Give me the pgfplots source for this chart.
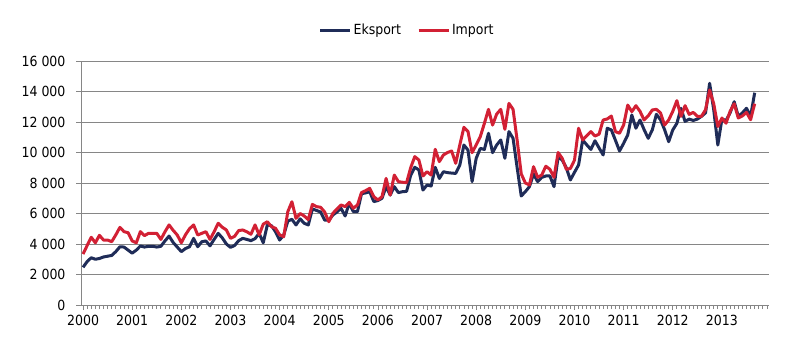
\documentclass[border=0pt]{standalone}
\usepackage{fontspec}
\setmainfont{DejaVu Sans Condensed}
\usepackage{pgfplots}
\usepackage{pgfplotstable}
\pgfplotsset{compat=1.18}
\definecolor{navy}{RGB}{31,44,88}
\definecolor{crim}{RGB}{210,32,52}
\definecolor{gridgray}{RGB}{134,134,134}

\pgfplotstableread{
i E I
0 2470 3340
1 2850 3900
2 3100 4440
3 3000 4080
4 3050 4570
5 3150 4260
6 3200 4260
7 3250 4150
8 3500 4600
9 3820 5090
10 3800 4810
11 3600 4740
12 3400 4200
13 3600 4080
14 3870 4810
15 3800 4550
16 3850 4700
17 3850 4700
18 3800 4700
19 3850 4300
20 4200 4800
21 4520 5250
22 4100 4900
23 3800 4590
24 3500 4080
25 3700 4600
26 3820 5000
27 4370 5250
28 3820 4590
29 4150 4700
30 4200 4810
31 3880 4300
32 4300 4800
33 4700 5360
34 4400 5100
35 4000 4920
36 3780 4370
37 3900 4500
38 4220 4880
39 4370 4920
40 4300 4800
41 4220 4640
42 4350 5250
43 4700 4600
44 4080 5300
45 5250 5460
46 5200 5140
47 4800 5030
48 4260 4600
49 4590 4480
50 5500 6120
51 5620 6770
52 5250 5680
53 5650 6000
54 5360 5840
55 5250 5600
56 6300 6600
57 6200 6450
58 6100 6410
59 5570 6100
60 5550 5460
61 5900 6010
62 6100 6300
63 6340 6560
64 5840 6450
65 6670 6730
66 6120 6340
67 6120 6560
68 7300 7370
69 7350 7500
70 7430 7650
71 6780 7100
72 6850 6890
73 7000 7100
74 7760 8300
75 7210 7210
76 7760 8520
77 7370 8090
78 7430 8050
79 7450 8020
80 8500 9000
81 9030 9730
82 8860 9510
83 7540 8460
84 7870 8740
85 7800 8520
86 9030 10210
87 8300 9400
88 8740 9840
89 8680 10000
90 8650 10100
91 8630 9290
92 9180 10500
93 10490 11650
94 10160 11370
95 8090 9990
96 9620 10500
97 10270 11040
98 10200 11910
99 11260 12830
100 9990 11800
101 10490 12520
102 10820 12830
103 9620 11520
104 11370 13220
105 10930 12830
106 9000 10800
107 7150 8600
108 7430 8000
109 7760 7870
110 8590 9070
111 8090 8370
112 8370 8520
113 8460 9100
114 8460 8900
115 7760 8370
116 9700 10000
117 9510 9620
118 9000 8900
119 8200 8950
120 8700 9500
121 9180 11590
122 10820 10820
123 10500 11100
124 10200 11370
125 10770 11080
126 10300 11200
127 9840 12130
128 11590 12200
129 11480 12390
130 10800 11370
131 10100 11260
132 10600 11800
133 11150 13110
134 12460 12680
135 11590 13070
136 12130 12700
137 11500 12130
138 10930 12400
139 11480 12790
140 12500 12830
141 12150 12600
142 11500 11800
143 10710 12130
144 11480 12700
145 11910 13400
146 12900 12370
147 12040 13070
148 12190 12500
149 12100 12630
150 12190 12370
151 12370 12370
152 12600 12800
153 14540 14100
154 12800 13200
155 10490 11700
156 12190 12260
157 12100 11920
158 12600 12700
159 13330 13200
160 12370 12260
161 12600 12400
162 12900 12630
163 12370 12150
164 13920 13200
}\data

\begin{document}
\begin{tikzpicture}[x=1bp,y=1bp]
\useasboundingbox (0,0) rectangle (800,363);
\begin{axis}[
  at={(81bp,58bp)}, anchor=south west,
  scale only axis, width=688bp, height=244bp,
  xmin=-0.5, xmax=167.5, ymin=0, ymax=16000,
  axis x line=bottom, axis y line=left,
  axis line style={-, draw=gridgray, line width=0.8bp},
  scaled y ticks=false,
  ytick={0,2000,...,16000},
  yticklabels={0,2 000,4 000,6 000,8 000,10 000,12 000,14 000,16 000},
  ymajorgrids, grid style={gridgray, line width=0.8bp},
  xtick={0,12,...,156},
  xticklabels={2000,2001,2002,2003,2004,2005,2006,2007,2008,2009,2010,2011,2012,2013},
  minor xtick={0,1,...,167},
  tick style={gridgray, line width=0.8bp},
  major tick length=5bp, minor tick length=4bp,
  tick align=outside,
  ticklabel style={font=\fontsize{14}{16}\selectfont, text=black},
  xticklabel style={yshift=-2bp},
  yticklabel style={xshift=-7bp},
  legend columns=2,
  legend style={at={(0.474,1.127)}, anchor=center, draw=none, fill=none,
    font=\fontsize{14}{16}\selectfont,
    /tikz/every even column/.append style={column sep=14bp}},
  legend image code/.code={\draw[#1] (0bp,0bp) -- (30bp,0bp);},
]
\addplot[navy, line width=3bp, line join=round] table[x=i, y=E] {\data};
\addlegendentry{Eksport}
\addplot[crim, line width=3bp, line join=round] table[x=i, y=I] {\data};
\addlegendentry{Import}
\end{axis}
\end{tikzpicture}
\end{document}
